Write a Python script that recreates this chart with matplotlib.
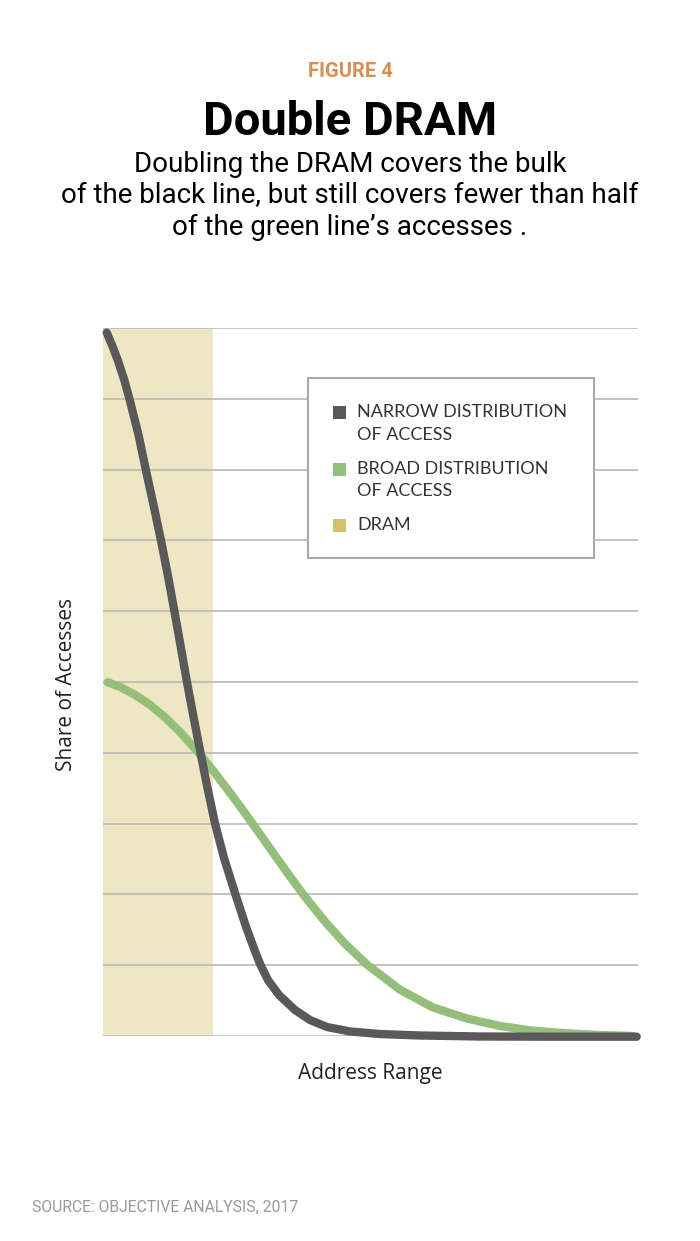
import numpy as np
import matplotlib.pyplot as plt
from matplotlib.patches import Rectangle

# data (x: address range 0-100, y: share 0-10)
narrow_x = [0.69, 1.68, 2.75, 3.98, 4.95, 6.64, 8.04, 9.44, 10.84, 12.15, 13.36, 14.54,
            15.70, 16.92, 18.22, 19.53, 20.93, 22.62, 24.77, 26.73, 28.32, 29.44,
            30.84, 32.90, 35.89, 38.69, 41.87, 46.17, 51.78, 59.25, 70.47, 85.4, 99.75]
narrow_y = [9.934, 9.760, 9.548, 9.266, 8.997, 8.489, 7.985, 7.500, 6.999, 6.497, 5.993, 5.494,
            4.996, 4.506, 4.001, 3.503, 3.004, 2.514, 1.996, 1.544, 1.215, 1.003,
            0.791, 0.579, 0.367, 0.226, 0.127, 0.064, 0.028, 0.007, -0.007, -0.01, -0.01]

broad_x = [0.88, 3.18, 5.98, 8.79, 11.59, 14.39, 17.76, 20.93, 24.67, 27.85, 31.21,
           34.95, 37.76, 41.50, 45.23, 49.35, 55.51, 61.68, 68.04, 74.21, 80.37,
           86.73, 92.90, 99.07]
broad_y = [4.996, 4.931, 4.819, 4.677, 4.501, 4.295, 4.010, 3.715, 3.342, 3.010, 2.651,
           2.253, 1.966, 1.616, 1.304, 1.008, 0.654, 0.403, 0.247, 0.141, 0.075,
           0.038, 0.014, 0.0]

dram_end = 20.5

c_narrow = "#5b5859"
c_broad = "#93bf7b"
c_dram_band = "#efe6c4"
c_dram_key = "#d4c06f"

W, H = 700, 1241
fig = plt.figure(figsize=(W / 100, H / 100), dpi=100)


def fx(x):
    return x / W


def fy(y):
    return 1 - y / H


ax = fig.add_axes([fx(103), fy(1036), fx(638) - fx(103), fy(328) - fy(1036)])
ax.set_xlim(0, 100)
ax.set_ylim(0, 10)
ax.axvspan(0, dram_end, color=c_dram_band, zorder=0, lw=0)
for g in range(11):
    ax.axhline(g, color="#bdbdbd", lw=1.3, zorder=1)
ax.plot(broad_x, broad_y, color=c_broad, lw=6, solid_capstyle="round",
        solid_joinstyle="round", zorder=3, clip_on=False)
ax.plot(narrow_x, narrow_y, color=c_narrow, lw=6, solid_capstyle="round",
        solid_joinstyle="round", zorder=4, clip_on=False)
for s in ax.spines.values():
    s.set_visible(False)
ax.set_xticks([])
ax.set_yticks([])

# legend box
fig.patches.append(Rectangle((fx(308), fy(558)), fx(594) - fx(308), fy(378) - fy(558),
                             transform=fig.transFigure, facecolor="white",
                             edgecolor="#aaaaaa", lw=1.5, zorder=5))
legend_items = [
    ("NARROW DISTRIBUTION\nOF ACCESS", c_narrow, 413),
    ("BROAD DISTRIBUTION\nOF ACCESS", c_broad, 470),
    ("DRAM", c_dram_key, 526),
]
for label, col, ypos in legend_items:
    fig.patches.append(Rectangle((fx(333), fy(ypos + 6)), fx(13), 13 / H,
                                 transform=fig.transFigure, facecolor=col,
                                 edgecolor="none", zorder=6))
    fig.text(fx(357), fy(ypos - 9), label, ha="left", va="top", fontsize=13,
             family="Lato", color="#333333", linespacing=1.5, zorder=7)

# titles
fig.text(0.5, fy(77), "FIGURE 4", ha="center", va="baseline", fontsize=14.5,
         family="Roboto", weight="bold", color="#d9904f")
fig.text(0.5, fy(135), "Double DRAM", ha="center", va="baseline", fontsize=34,
         family="Roboto", weight="bold", color="black")
subtitle = ["Doubling the DRAM covers the bulk",
            "of the black line, but still covers fewer than half",
            "of the green line\u2019s accesses ."]
for i, line in enumerate(subtitle):
    fig.text(0.5, fy(172 + 31.5 * i), line, ha="center", va="baseline", fontsize=20,
             family="Roboto", color="black")

fig.text(fx(67), fy(684), "Share of Accesses", rotation=90, ha="center", va="center",
         fontsize=15, family="Open Sans", color="#222222")
fig.text(fx(370), fy(1074), "Address Range", ha="center", va="center",
         fontsize=15, family="Open Sans", color="#222222")
fig.text(fx(32), fy(1207), "SOURCE: OBJECTIVE ANALYSIS, 2017", ha="left", va="center",
         fontsize=11.3, family="Roboto", color="#9a9a9a")

fig.savefig("out.png", dpi=100)
